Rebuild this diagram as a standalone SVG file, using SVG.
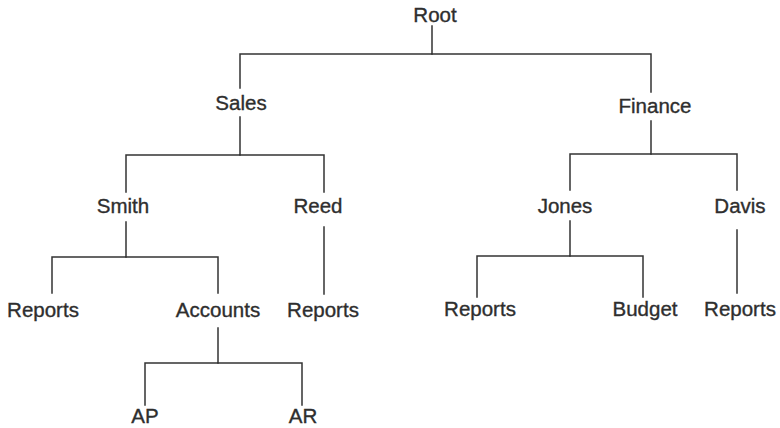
<svg xmlns="http://www.w3.org/2000/svg" width="780" height="428" viewBox="0 0 780 428">
<style>
.bg{fill:#ffffff}
.edge{fill:none;stroke:#333333;stroke-width:1.5;stroke-linecap:square}
.lbl{font-family:"Liberation Sans",Arial,Helvetica,sans-serif;font-size:20.5px;fill:#2e2e2e;stroke:#2e2e2e;stroke-width:0.35;text-anchor:middle}
</style>
<rect class="bg" x="0" y="0" width="780" height="428"/>
<g id="connectors">
<path class="edge" d="M432,26 V54 H240 V88"/>
<path class="edge" d="M432,54 H651 V92"/>
<path class="edge" d="M240,117 V155 H126 V192"/>
<path class="edge" d="M240,155 H324 V192"/>
<path class="edge" d="M126,222 V257 H52 V293"/>
<path class="edge" d="M126,257 H218 V293"/>
<path class="edge" d="M324,227 V294"/>
<path class="edge" d="M218,328 V363 H145 V405"/>
<path class="edge" d="M218,363 H302 V405"/>
<path class="edge" d="M651,121 V154 H570 V190"/>
<path class="edge" d="M651,154 H737 V190"/>
<path class="edge" d="M570,221 V256 H477 V297"/>
<path class="edge" d="M570,256 H643 V297"/>
<path class="edge" d="M737,230 V293"/>
</g>
<g id="root"><text class="lbl" x="435" y="22">Root</text></g>
<g id="sales"><text class="lbl" x="241" y="110">Sales</text></g>
<g id="finance"><text class="lbl" x="655" y="113">Finance</text></g>
<g id="smith"><text class="lbl" x="123" y="213">Smith</text></g>
<g id="reed"><text class="lbl" x="318" y="213">Reed</text></g>
<g id="jones"><text class="lbl" x="565" y="213">Jones</text></g>
<g id="davis"><text class="lbl" x="740" y="213">Davis</text></g>
<g id="smith-reports"><text class="lbl" x="43" y="317">Reports</text></g>
<g id="accounts"><text class="lbl" x="218" y="317">Accounts</text></g>
<g id="reed-reports"><text class="lbl" x="323" y="317">Reports</text></g>
<g id="jones-reports"><text class="lbl" x="480" y="316">Reports</text></g>
<g id="budget"><text class="lbl" x="645" y="316">Budget</text></g>
<g id="davis-reports"><text class="lbl" x="740" y="316">Reports</text></g>
<g id="ap"><text class="lbl" x="145" y="423">AP</text></g>
<g id="ar"><text class="lbl" x="303" y="423">AR</text></g>
</svg>
